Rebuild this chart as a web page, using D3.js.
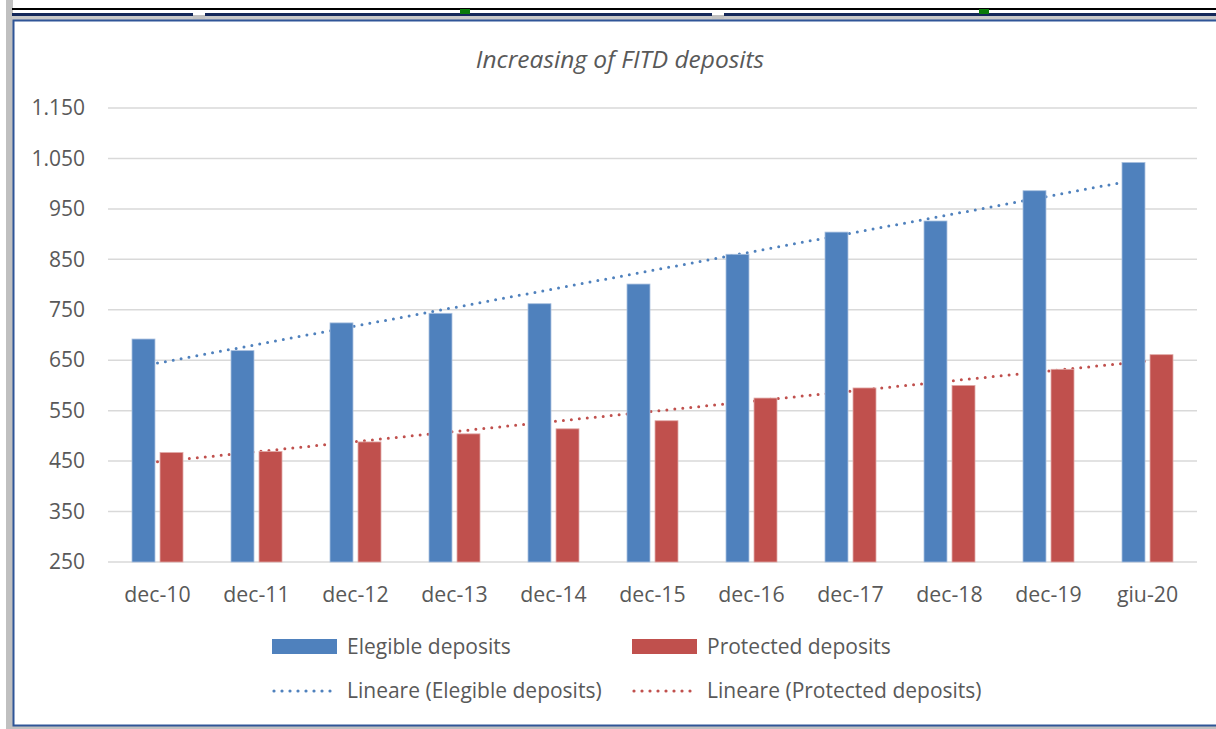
<!DOCTYPE html>
<html>
<head>
<meta charset="utf-8">
<script src="https://cdn.jsdelivr.net/npm/d3@7"></script>
<style>
  body { margin: 0; background: #fff; }
  svg { display: block; }
</style>
</head>
<body>
<div id="chart"></div>
<script>
// dati
const categories = ["dec-10", "dec-11", "dec-12", "dec-13", "dec-14", "dec-15", "dec-16", "dec-17", "dec-18", "dec-19", "giu-20"];
const elegible = [692, 669, 724, 743, 762, 801, 860, 904, 926, 986, 1042];
const protectedDep = [467, 469, 488, 504, 514, 530, 575, 595, 600, 632, 661];
const yTicks = [250, 350, 450, 550, 650, 750, 850, 950, 1050, 1150];

const seriesNames = ["Elegible deposits", "Protected deposits"];
const colors = ["#4F81BD", "#C0504D"];

const W = 1216, H = 729;
const plot = { left: 108, right: 1197, top: 108, bottom: 562 };
const font = "'Open Sans', 'Noto Sans', sans-serif";
const textColor = "#595959";

const svg = d3.select("#chart").append("svg")
    .attr("width", W)
    .attr("height", H);

svg.append("rect").attr("width", W).attr("height", H).attr("fill", "#fff");

// cornice (stile finestra Excel)
svg.append("rect").attr("x", 6).attr("y", 0).attr("width", 7).attr("height", H).attr("fill", "#c0c0c0");
svg.append("rect").attr("x", 12).attr("y", 8).attr("width", W - 12).attr("height", 2).attr("fill", "#000");
svg.append("rect").attr("x", 12).attr("y", 13).attr("width", W - 12).attr("height", 3).attr("fill", "#14285a");
svg.append("rect").attr("x", 12).attr("y", 16).attr("width", W - 12).attr("height", 4).attr("fill", "#c8c8c8");
[[193, 12], [712, 12]].forEach(([gx, gw]) => {
    svg.append("rect").attr("x", gx).attr("y", 12).attr("width", gw).attr("height", 4).attr("fill", "#fff");
    svg.append("rect").attr("x", gx).attr("y", 15).attr("width", gw).attr("height", 4).attr("fill", "#c0c0c0");
});
[460, 979].forEach(gx => {
    svg.append("rect").attr("x", gx).attr("y", 9).attr("width", 10).attr("height", 5).attr("fill", "#0a7a0a");
});
svg.append("rect").attr("x", 13).attr("y", 725).attr("width", W - 13).attr("height", 4).attr("fill", "#c0c0c0");
svg.append("rect").attr("x", 13.5).attr("y", 20.5).attr("width", W).attr("height", 705)
    .attr("fill", "none").attr("stroke", "#2f5597").attr("stroke-width", 2);

// scale
const x = d3.scaleBand()
    .domain(categories)
    .range([plot.left, plot.right])
    .paddingInner(0.485)
    .paddingOuter(0.2425);

const xSub = d3.scaleBand()
    .domain([0, 1])
    .range([0, x.bandwidth()])
    .paddingInner(0.18);

const y = d3.scaleLinear()
    .domain([250, 1150])
    .range([plot.bottom, plot.top]);

const fmt = d3.formatLocale({ decimal: ",", thousands: ".", grouping: [3], currency: ["€", ""] }).format(",");

// griglia
svg.append("g")
    .selectAll("line")
    .data(yTicks)
    .join("line")
    .attr("x1", plot.left)
    .attr("x2", plot.right)
    .attr("y1", d => y(d))
    .attr("y2", d => y(d))
    .attr("stroke", "#d9d9d9")
    .attr("stroke-width", 1.5);

// asse Y
const yAxis = svg.append("g")
    .attr("transform", `translate(${plot.left},0)`)
    .call(d3.axisLeft(y).tickValues(yTicks).tickFormat(fmt).tickSize(0).tickPadding(23));
yAxis.select(".domain").remove();
yAxis.selectAll("text")
    .style("font-family", font)
    .style("font-size", "21px")
    .attr("fill", textColor);

// asse X
const xAxis = svg.append("g")
    .attr("transform", `translate(0,${plot.bottom})`)
    .call(d3.axisBottom(x).tickSize(0).tickPadding(25));
xAxis.select(".domain").remove();
xAxis.selectAll("text")
    .style("font-family", font)
    .style("font-size", "21.3px")
    .attr("fill", textColor);

// linee di tendenza (regressione lineare)
function trend(values) {
    const n = values.length;
    const xs = d3.range(n);
    const mx = d3.mean(xs), my = d3.mean(values);
    const b = d3.sum(xs, i => (i - mx) * (values[i] - my)) / d3.sum(xs, i => (i - mx) ** 2);
    const a = my - b * mx;
    return [[0, a], [n - 1, a + b * (n - 1)]];
}

const line = d3.line()
    .x(d => x(categories[d[0]]) + x.bandwidth() / 2)
    .y(d => y(d[1]));

[elegible, protectedDep].forEach((vals, s) => {
    svg.append("path")
        .attr("d", line(trend(vals)))
        .attr("fill", "none")
        .attr("stroke", colors[s])
        .attr("stroke-width", 3)
        .attr("stroke-linecap", "round")
        .attr("stroke-dasharray", "0 8");
});

// barre
const groups = svg.append("g")
    .selectAll("g")
    .data(categories)
    .join("g")
    .attr("transform", d => `translate(${x(d)},0)`);

groups.selectAll("rect")
    .data((d, i) => [elegible[i], protectedDep[i]])
    .join("rect")
    .attr("x", (d, s) => xSub(s))
    .attr("y", d => y(d))
    .attr("width", xSub.bandwidth())
    .attr("height", d => plot.bottom - y(d))
    .attr("fill", (d, s) => colors[s])
    .attr("stroke", (d, s) => s === 0 ? "#a7bfde" : "#e0a8a6")
    .attr("stroke-width", 0.8);

// titolo
svg.append("text")
    .attr("x", 620)
    .attr("y", 68)
    .attr("text-anchor", "middle")
    .style("font-family", font)
    .style("font-size", "24.5px")
    .style("font-style", "italic")
    .attr("fill", textColor)
    .text("Increasing of FITD deposits");

// legenda
const legend = svg.append("g");
const legX = [272, 632];
seriesNames.forEach((name, s) => {
    legend.append("rect")
        .attr("x", legX[s]).attr("y", 639)
        .attr("width", 65).attr("height", 15)
        .attr("fill", colors[s]);
    legend.append("text")
        .attr("x", legX[s] + 75).attr("y", 654)
        .style("font-family", font).style("font-size", "21px")
        .attr("fill", textColor)
        .text(name);
    legend.append("line")
        .attr("x1", legX[s] + 2).attr("x2", legX[s] + 65)
        .attr("y1", 691).attr("y2", 691)
        .attr("stroke", colors[s])
        .attr("stroke-width", 3.2)
        .attr("stroke-linecap", "round")
        .attr("stroke-dasharray", "0 8");
    legend.append("text")
        .attr("x", legX[s] + 75).attr("y", 698)
        .style("font-family", font).style("font-size", "21px")
        .attr("fill", textColor)
        .text(`Lineare (${name})`);
});
</script>
</body>
</html>
